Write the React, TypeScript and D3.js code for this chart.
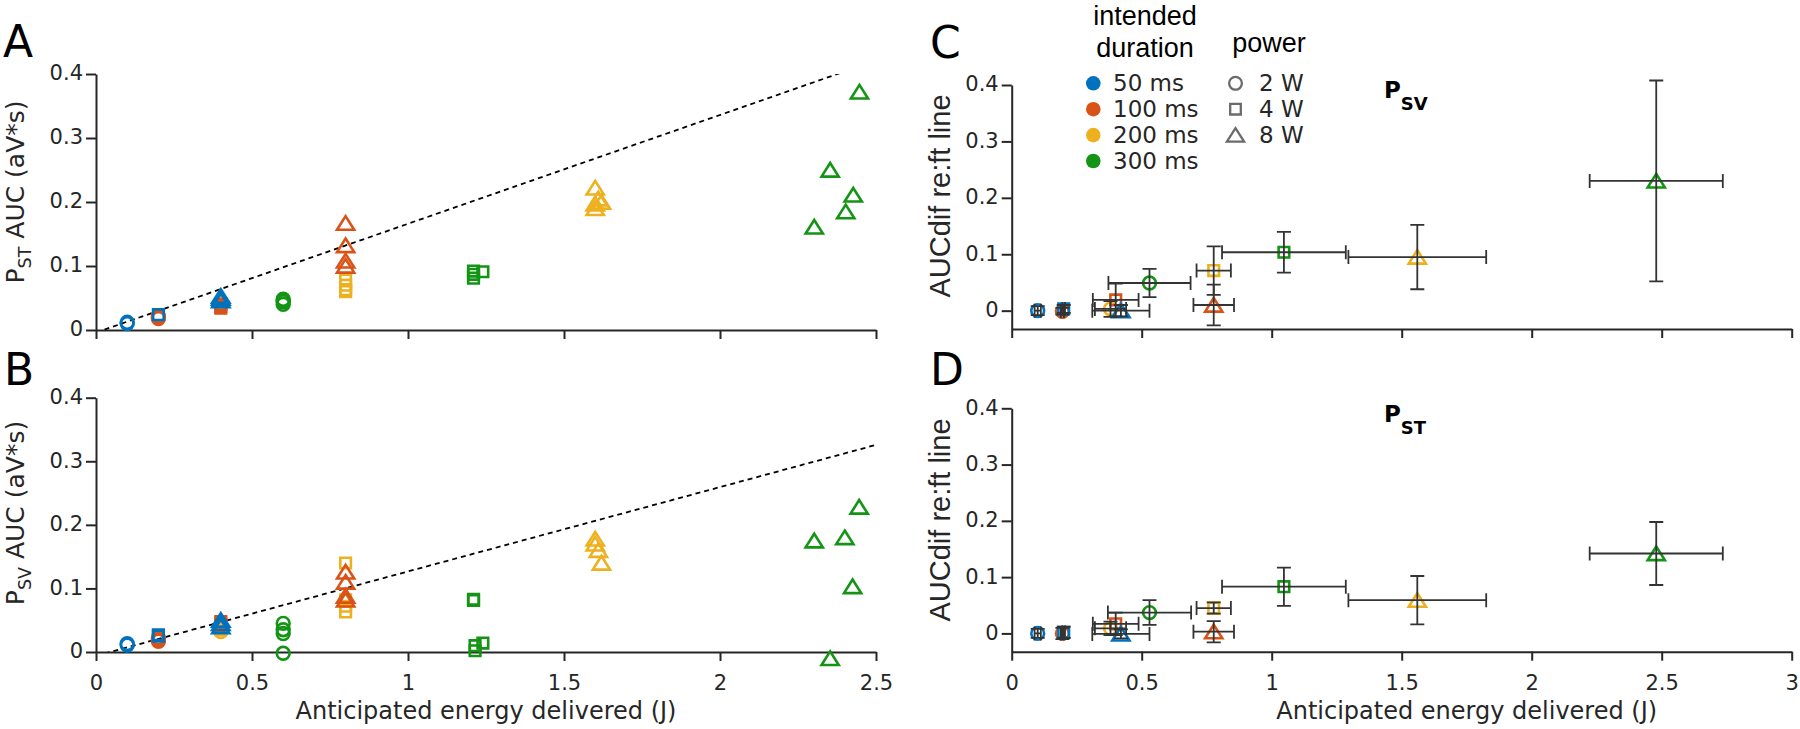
import React, { useEffect, useRef } from 'react';
import * as d3 from 'd3';

// legend categories
const durationLabels = ['50 ms', '100 ms', '200 ms', '300 ms'];
const powerLabels = ['2 W', '4 W', '8 W'];
const durationColors = ['#0072BD', '#D95319', '#EDB120', '#149414'];

// [duration idx, power idx, anticipated energy (J), AUC (aV*s)]
const pstPoints: [number, number, number, number][] = [
  [0, 0, 0.1, 0.012], [0, 0, 0.1, 0.010],
  [1, 0, 0.2, 0.018], [1, 0, 0.2, 0.022], [1, 0, 0.2, 0.020],
  [0, 1, 0.2, 0.024],
  [2, 0, 0.4, 0.042], [2, 0, 0.4, 0.038],
  [1, 1, 0.4, 0.034], [1, 1, 0.4, 0.037], [1, 1, 0.4, 0.040],
  [0, 2, 0.4, 0.050], [0, 2, 0.4, 0.046], [0, 2, 0.4, 0.053],
  [3, 0, 0.6, 0.048], [3, 0, 0.6, 0.044], [3, 0, 0.6, 0.040], [3, 0, 0.6, 0.046],
  [1, 2, 0.8, 0.167], [1, 2, 0.8, 0.132], [1, 2, 0.8, 0.108], [1, 2, 0.8, 0.100],
  [2, 1, 0.8, 0.078], [2, 1, 0.8, 0.070], [2, 1, 0.8, 0.063], [2, 1, 0.8, 0.060],
  [3, 1, 1.21, 0.092], [3, 1, 1.21, 0.081], [3, 1, 1.24, 0.091], [3, 1, 1.21, 0.087],
  [2, 2, 1.6, 0.222], [2, 2, 1.61, 0.205], [2, 2, 1.6, 0.197], [2, 2, 1.6, 0.19], [2, 2, 1.62, 0.2],
  [3, 2, 2.447, 0.372], [3, 2, 2.353, 0.25], [3, 2, 2.427, 0.211], [3, 2, 2.403, 0.185], [3, 2, 2.302, 0.161],
];

const psvPoints: [number, number, number, number][] = [
  [0, 0, 0.1, 0.011], [0, 0, 0.1, 0.013],
  [1, 0, 0.2, 0.017], [1, 0, 0.2, 0.022], [1, 0, 0.2, 0.019],
  [0, 1, 0.2, 0.027], [0, 1, 0.2, 0.025],
  [2, 0, 0.4, 0.032], [2, 0, 0.4, 0.036],
  [1, 1, 0.4, 0.045], [1, 1, 0.4, 0.048], [1, 1, 0.4, 0.041],
  [0, 2, 0.4, 0.05], [0, 2, 0.4, 0.045], [0, 2, 0.4, 0.04],
  [3, 0, 0.6, 0.045], [3, 0, 0.6, 0.035], [3, 0, 0.6, 0.029], [3, 0, 0.6, -0.002],
  [1, 2, 0.8, 0.126], [1, 2, 0.8, 0.11], [1, 2, 0.8, 0.088], [1, 2, 0.8, 0.082],
  [2, 1, 0.8, 0.14], [2, 1, 0.8, 0.082], [2, 1, 0.8, 0.072], [2, 1, 0.8, 0.063],
  [3, 1, 1.21, 0.083], [3, 1, 1.21, 0.081], [3, 1, 1.215, 0.002], [3, 1, 1.215, 0.01], [3, 1, 1.24, 0.014],
  [2, 2, 1.6, 0.178], [2, 2, 1.6, 0.17], [2, 2, 1.61, 0.16], [2, 2, 1.62, 0.14],
  [3, 2, 2.302, 0.175], [3, 2, 2.4, 0.18], [3, 2, 2.446, 0.228], [3, 2, 2.425, 0.103], [3, 2, 2.353, -0.01],
];

// reference fit lines [slope, intercept]
const pstFit = [0.17, -0.004];
const psvFit = [0.1327, -0.006];

// group means: [duration idx, power idx, x, y, x err, y err]
const psvMeans: number[][] = [
  [0, 0, 0.1, 0.0, 0.012, 0.008],
  [1, 0, 0.195, -0.001, 0.006, 0.006],
  [0, 1, 0.2, 0.003, 0.005, 0.007],
  [2, 0, 0.38, 0.003, 0.06, 0.014],
  [1, 1, 0.4, 0.019, 0.088, 0.029],
  [0, 2, 0.42, 0.0, 0.11, 0.01],
  [3, 0, 0.53, 0.049, 0.158, 0.025],
  [2, 1, 0.777, 0.071, 0.066, 0.043],
  [1, 2, 0.777, 0.01, 0.078, 0.036],
  [3, 1, 1.047, 0.1035, 0.238, 0.036],
  [2, 2, 1.56, 0.095, 0.265, 0.057],
  [3, 2, 2.479, 0.23, 0.256, 0.178],
];

const pstMeans: number[][] = [
  [0, 0, 0.1, 0.0, 0.012, 0.008],
  [1, 0, 0.195, 0.0, 0.006, 0.01],
  [0, 1, 0.2, 0.002, 0.005, 0.01],
  [2, 0, 0.38, 0.009, 0.06, 0.012],
  [1, 1, 0.4, 0.017, 0.088, 0.02],
  [0, 2, 0.42, -0.001, 0.11, 0.008],
  [3, 0, 0.53, 0.037, 0.16, 0.022],
  [2, 1, 0.777, 0.045, 0.066, 0.01],
  [1, 2, 0.777, 0.003, 0.078, 0.019],
  [3, 1, 1.047, 0.083, 0.238, 0.034],
  [2, 2, 1.56, 0.059, 0.265, 0.043],
  [3, 2, 2.479, 0.142, 0.256, 0.056],
];

const yTicks = [0, 0.1, 0.2, 0.3, 0.4];
const xTicksLeft = [0, 0.5, 1, 1.5, 2, 2.5];
const xTicksRight = [0, 0.5, 1, 1.5, 2, 2.5, 3];

const AX = '#262626';
const FONT = 'DejaVu Sans, Verdana, sans-serif';

const markerPath = (shape: number) => {
  const p = d3.path();
  if (shape === 0) {
    p.arc(0, 0, 6.4, 0, 2 * Math.PI);
  } else if (shape === 1) {
    p.rect(-5.3, -5.3, 10.6, 10.6);
  } else {
    p.moveTo(0, -7);
    p.lineTo(8.6, 6.6);
    p.lineTo(-8.6, 6.6);
    p.closePath();
  }
  return p.toString();
};

// power ascending, then duration descending (matches overlap order)
const drawOrder = (a: number[], b: number[]) => a[1] - b[1] || b[0] - a[0];

const App: React.FC = () => {
  const svgRef = useRef<SVGSVGElement>(null);

  useEffect(() => {
    const svg = d3.select(svgRef.current);
    svg.selectAll('*').remove();

    const xL = d3.scaleLinear().domain([0, 2.5]).range([96, 876]);
    const yA = d3.scaleLinear().domain([0, 0.4]).range([330, 74]);
    const yB = d3.scaleLinear().domain([0, 0.4]).range([652, 397.7]);
    const xR = d3.scaleLinear().domain([0, 3]).range([1011.7, 1791.7]);
    const yC = d3.scaleLinear().domain([-0.0325, 0.4]).range([329, 85]);
    const yD = d3.scaleLinear().domain([-0.0325, 0.4]).range([651.7, 408.3]);

    const styleAxis = (g: any) => {
      g.select('.domain').attr('stroke', AX).attr('stroke-width', 2);
      g.selectAll('.tick line').attr('stroke', AX).attr('stroke-width', 2);
      g.selectAll('.tick text')
        .attr('fill', AX)
        .attr('font-size', 21)
        .attr('font-family', FONT);
    };

    const drawAxes = (x: any, y: any, xTicks: number[], xLabels: boolean) => {
      const [y0] = y.range();
      const [x0] = x.range();
      const gx = svg
        .append('g')
        .attr('transform', `translate(0,${y0})`)
        .call(
          d3
            .axisBottom(x)
            .tickValues(xTicks)
            .tickSize(9)
            .tickSizeOuter(0)
            .tickPadding(14)
            .tickFormat((d: any) => (xLabels ? String(d) : ''))
        );
      styleAxis(gx);
      const gy = svg
        .append('g')
        .attr('transform', `translate(${x0},0)`)
        .call(
          d3
            .axisLeft(y)
            .tickValues(yTicks)
            .tickSize(10)
            .tickSizeOuter(0)
            .tickPadding(3)
            .tickFormat((d: any) => String(d))
        );
      styleAxis(gy);
      gy.selectAll('.tick text').attr('dy', '0.28em');
    };

    const drawScatter = (pts: number[][], x: any, y: any) => {
      svg
        .append('g')
        .selectAll('path')
        .data([...pts].sort(drawOrder))
        .join('path')
        .attr('d', (d) => markerPath(d[1]))
        .attr('transform', (d) => `translate(${x(d[2])},${y(d[3])})`)
        .attr('fill', 'none')
        .attr('stroke', (d) => durationColors[d[0]])
        .attr('stroke-width', 2.6);
    };

    const drawFit = (fit: number[], x: any, y: any, id: string) => {
      const [xa, xb] = x.range();
      const [ya, yb] = y.range();
      svg
        .append('clipPath')
        .attr('id', id)
        .append('rect')
        .attr('x', xa)
        .attr('y', yb)
        .attr('width', xb - xa)
        .attr('height', ya - yb);
      const line = d3
        .line<number>()
        .x((d) => x(d))
        .y((d) => y(fit[0] * d + fit[1]));
      svg
        .append('path')
        .datum(x.domain())
        .attr('d', line)
        .attr('clip-path', `url(#${id})`)
        .attr('fill', 'none')
        .attr('stroke', '#000')
        .attr('stroke-width', 1.8)
        .attr('stroke-dasharray', '5,4');
    };

    const drawMeans = (pts: number[][], x: any, y: any) => {
      const sorted = [...pts].sort(drawOrder);
      const g = svg.append('g');
      g.selectAll('path.m')
        .data(sorted)
        .join('path')
        .attr('class', 'm')
        .attr('d', (d) => markerPath(d[1]))
        .attr('transform', (d) => `translate(${x(d[2])},${y(d[3])})`)
        .attr('fill', 'none')
        .attr('stroke', (d) => durationColors[d[0]])
        .attr('stroke-width', 2.6);
      const eb = g
        .append('g')
        .attr('stroke', '#333')
        .attr('stroke-width', 1.8)
        .attr('fill', 'none');
      sorted.forEach((d) => {
        const cx = x(d[2]);
        const cy = y(d[3]);
        const x1 = x(d[2] - d[4]);
        const x2 = x(d[2] + d[4]);
        const y1 = y(d[3] + d[5]);
        const y2 = y(d[3] - d[5]);
        const p = d3.path();
        p.moveTo(x1, cy);
        p.lineTo(x2, cy);
        p.moveTo(x1, cy - 7);
        p.lineTo(x1, cy + 7);
        p.moveTo(x2, cy - 7);
        p.lineTo(x2, cy + 7);
        p.moveTo(cx, y1);
        p.lineTo(cx, y2);
        p.moveTo(cx - 7, y1);
        p.lineTo(cx + 7, y1);
        p.moveTo(cx - 7, y2);
        p.lineTo(cx + 7, y2);
        eb.append('path').attr('d', p.toString());
      });
    };

    // panels A, B (scatter)
    drawAxes(xL, yA, xTicksLeft, false);
    drawAxes(xL, yB, xTicksLeft, true);
    drawFit(pstFit, xL, yA, 'clipA');
    drawFit(psvFit, xL, yB, 'clipB');
    drawScatter(pstPoints, xL, yA);
    drawScatter(psvPoints, xL, yB);

    // panels C, D (means +- error)
    drawAxes(xR, yC, xTicksRight, false);
    drawAxes(xR, yD, xTicksRight, true);
    drawMeans(psvMeans, xR, yC);
    drawMeans(pstMeans, xR, yD);

    // panel letters
    const letters: [string, number, number][] = [
      ['A', 3, 57],
      ['B', 4, 385],
      ['C', 930, 58],
      ['D', 930, 385],
    ];
    letters.forEach(([t, x, y]) => {
      svg
        .append('text')
        .attr('x', x)
        .attr('y', y)
        .attr('font-family', FONT)
        .attr('font-size', 44)
        .attr('fill', '#000')
        .text(t);
    });

    // y titles, left
    const leftTitle = (sub: string, cy: number) => {
      const t = svg
        .append('text')
        .attr('transform', `translate(24,${cy}) rotate(-90)`)
        .attr('text-anchor', 'middle')
        .attr('font-family', FONT)
        .attr('font-size', 25)
        .attr('fill', AX);
      t.append('tspan').text('P');
      t.append('tspan').attr('font-size', 17.5).attr('dy', 7).text(sub);
      t.append('tspan').attr('dy', -7).text(' AUC (aV*s)');
    };
    leftTitle('ST', 192);
    leftTitle('SV', 513);

    // y titles, right
    [196, 520].forEach((cy) => {
      svg
        .append('text')
        .attr('transform', `translate(950,${cy}) rotate(-90)`)
        .attr('text-anchor', 'middle')
        .attr('font-family', 'Liberation Sans, Arial, sans-serif')
        .attr('font-size', 29)
        .attr('fill', AX)
        .text('AUCdif re:ft line');
    });

    // x titles
    [
      [xL(1.25), 719],
      [xR(1.75), 719],
    ].forEach(([cx, by]) => {
      svg
        .append('text')
        .attr('x', cx)
        .attr('y', by)
        .attr('text-anchor', 'middle')
        .attr('font-family', FONT)
        .attr('font-size', 24)
        .attr('fill', AX)
        .text('Anticipated energy delivered (J)');
    });

    // panel tags P_SV / P_ST
    const tag = (sub: string, by: number) => {
      const t = svg
        .append('text')
        .attr('x', 1384)
        .attr('y', by)
        .attr('font-family', FONT)
        .attr('font-weight', 'bold')
        .attr('font-size', 23)
        .attr('fill', '#000');
      t.append('tspan').text('P');
      t.append('tspan').attr('font-size', 18).attr('dy', 12).text(sub);
    };
    tag('SV', 98);
    tag('ST', 422);

    // legend
    const lg = svg.append('g');
    const hdrFont = 'Liberation Sans, Arial, sans-serif';
    [
      ['intended', 1145, 25],
      ['duration', 1145, 57],
      ['power', 1269, 52],
    ].forEach(([t, x, y]) => {
      lg.append('text')
        .attr('x', x)
        .attr('y', y)
        .attr('text-anchor', 'middle')
        .attr('font-family', hdrFont)
        .attr('font-size', 27)
        .attr('fill', '#000')
        .text(t as string);
    });
    const rowY = d3.scaleLinear().domain([0, 1]).range([83.3, 109.2]);
    durationLabels.forEach((lab, i) => {
      lg.append('circle')
        .attr('cx', 1093.3)
        .attr('cy', rowY(i))
        .attr('r', 7.3)
        .attr('fill', durationColors[i]);
      lg.append('text')
        .attr('x', 1113)
        .attr('y', rowY(i) + 8)
        .attr('font-family', FONT)
        .attr('font-size', 23)
        .attr('fill', AX)
        .text(lab);
    });
    powerLabels.forEach((lab, i) => {
      lg.append('path')
        .attr('d', markerPath(i))
        .attr('transform', `translate(1235.5,${rowY(i)})`)
        .attr('fill', 'none')
        .attr('stroke', '#6b6b6b')
        .attr('stroke-width', 2.3);
      lg.append('text')
        .attr('x', 1259)
        .attr('y', rowY(i) + 8)
        .attr('font-family', FONT)
        .attr('font-size', 23)
        .attr('fill', AX)
        .text(lab);
    });
  }, []);

  return (
    <svg
      ref={svgRef}
      width={1800}
      height={729}
      style={{ position: 'absolute', left: 0, top: 0, background: '#fff' }}
    />
  );
};

export default App;
